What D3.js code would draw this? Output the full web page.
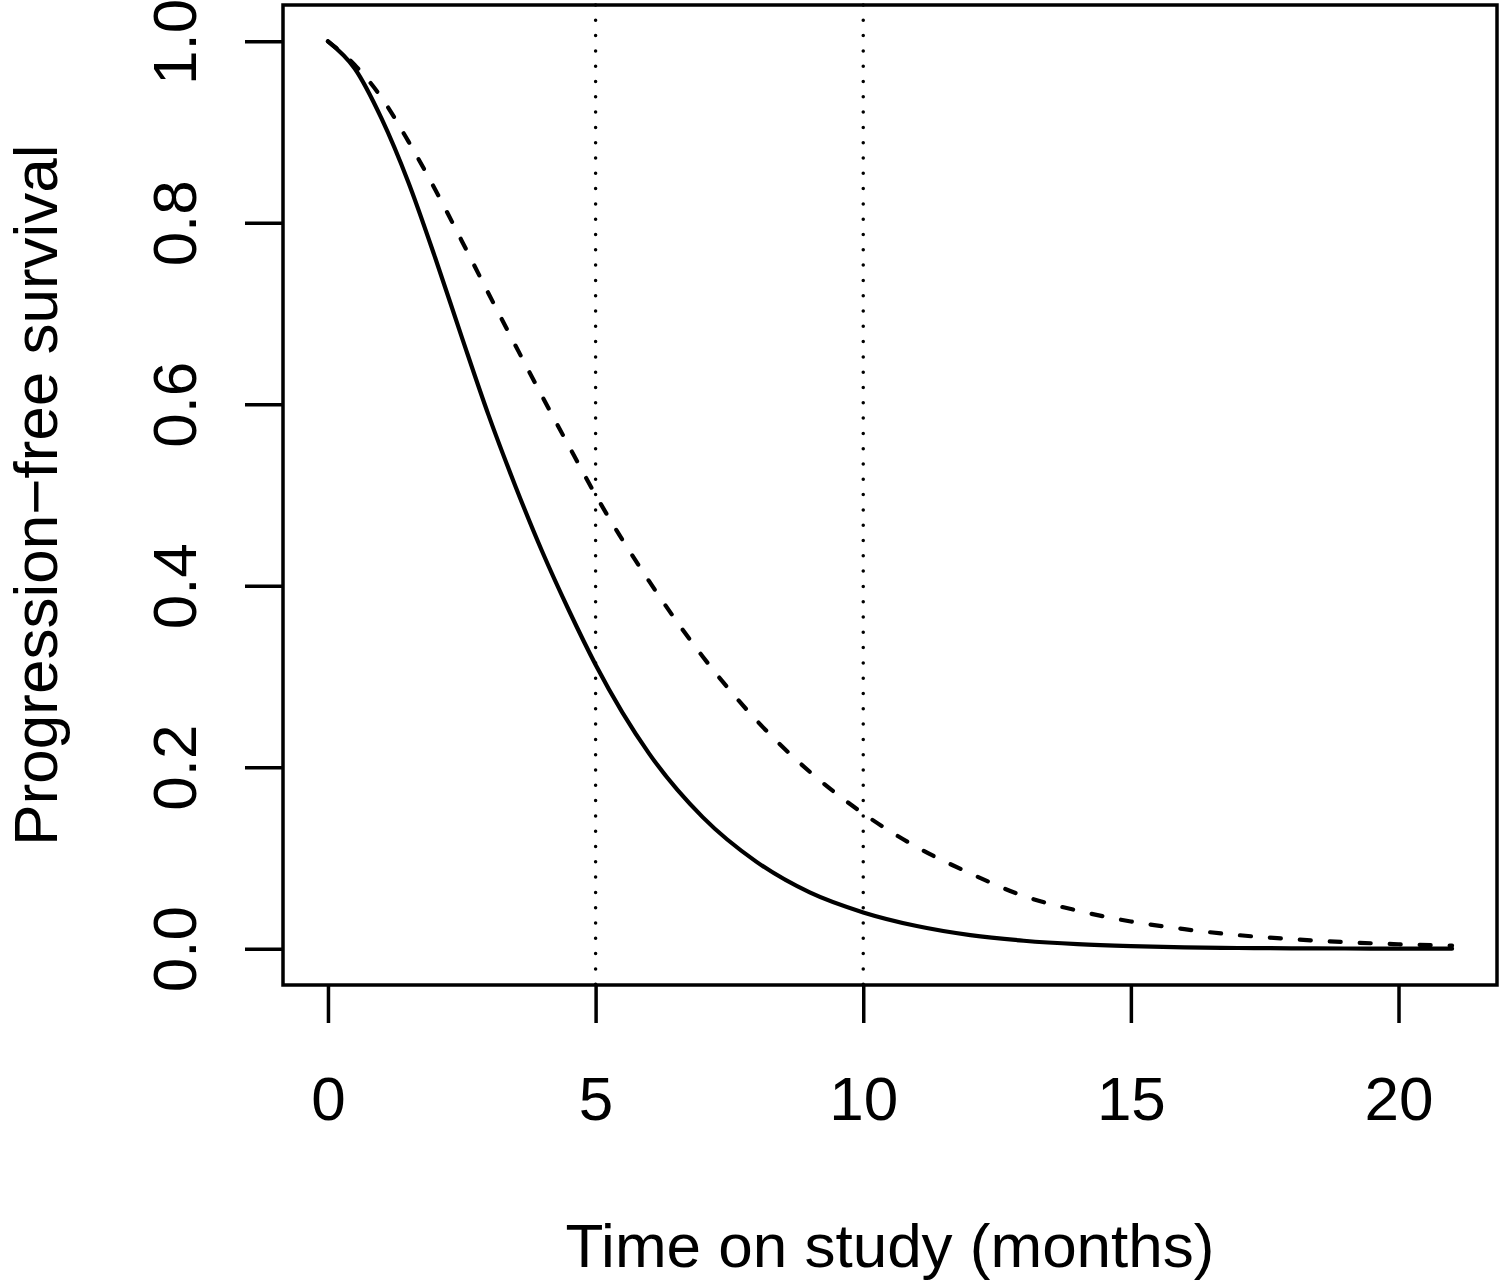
<!DOCTYPE html>
<html>
<head>
<meta charset="utf-8">
<style>
  body { margin: 0px; background: white; }
  text { font-family: "Liberation Sans", Arial, sans-serif; }
</style>
</head>
<body>
<svg id="mysvg"></svg>

<script src="https://d3js.org/d3.v7.min.js"></script>
<script>

  // months on study
  var months = [0, 0.5, 1, 1.5, 2, 2.5, 3, 3.5, 4, 4.5, 5, 6, 7, 8, 9, 10,
                11, 12, 13, 14, 15, 16, 17, 18, 19, 20, 21];

  // solid curve
  var pfsSolid = [1, 0.97, 0.915, 0.845, 0.762, 0.674, 0.588, 0.51, 0.438, 0.373, 0.313,
                  0.215, 0.145, 0.096, 0.062, 0.04,
                  0.025, 0.015, 0.0088, 0.005, 0.0028, 0.0015, 0.0008, 0.0004, 0.0002, 0.0001, 0.00005];

  // dashed curve
  var pfsDashed = [1, 0.974, 0.938, 0.89, 0.837, 0.78, 0.722, 0.665, 0.609, 0.554, 0.5,
                   0.405, 0.322, 0.252, 0.195, 0.149,
                   0.112, 0.083, 0.058, 0.042, 0.03, 0.0215, 0.015, 0.0105, 0.0072, 0.0049, 0.0033];

  var xTicks = [0, 5, 10, 15, 20];
  var yTicks = [0, 0.2, 0.4, 0.6, 0.8, 1.0];
  var refMonths = [5, 10];

  var width = 1500, height = 1280;
  var fontSize = 62;

  var svg = d3.select("#mysvg")
    .attr("width", width)
    .attr("height", height);

  // R style: 4% padding on both sides of the data range
  var xScale = d3.scaleLinear()
    .domain([-0.84, 21.84])
    .range([283, 1497]);

  var yScale = d3.scaleLinear()
    .domain([-0.04, 1.04])
    .range([985, 5]);

  // dotted reference lines
  svg.selectAll(".ref")
    .data(refMonths)
    .enter().append("line")
    .attr("class", "ref")
    .attr("x1", function(d){ return xScale(d); })
    .attr("x2", function(d){ return xScale(d); })
    .attr("y1", yScale.range()[1])
    .attr("y2", yScale.range()[0])
    .attr("stroke", "black")
    .attr("stroke-width", 3.5)
    .attr("stroke-linecap", "round")
    .attr("stroke-dasharray", "0,15.3");

  var line = d3.line()
    .curve(d3.curveMonotoneX)
    .x(function(d){ return xScale(d[0]); })
    .y(function(d){ return yScale(d[1]); });

  svg.append("path")
    .datum(d3.zip(months, pfsSolid))
    .attr("d", line)
    .attr("fill", "none")
    .attr("stroke", "black")
    .attr("stroke-width", 4.2)
    .attr("stroke-linecap", "round");

  svg.append("path")
    .datum(d3.zip(months, pfsDashed))
    .attr("d", line)
    .attr("fill", "none")
    .attr("stroke", "black")
    .attr("stroke-width", 4.2)
    .attr("stroke-linecap", "round")
    .attr("stroke-dasharray", "11,19");

  // box
  svg.append("rect")
    .attr("x", xScale.range()[0])
    .attr("y", yScale.range()[1])
    .attr("width", xScale.range()[1] - xScale.range()[0])
    .attr("height", yScale.range()[0] - yScale.range()[1])
    .attr("fill", "none")
    .attr("stroke", "black")
    .attr("stroke-width", 3.5);

  // x axis
  var xAxis = d3.axisBottom(xScale)
    .tickValues(xTicks)
    .tickSize(38)
    .tickFormat(d3.format("d"));

  var gx = svg.append("g")
    .attr("transform", "translate(0," + yScale.range()[0] + ")")
    .call(xAxis);
  gx.select(".domain").remove();
  gx.selectAll("line").attr("stroke-width", 3.5);
  gx.selectAll("text")
    .attr("y", 135)
    .attr("dy", null)
    .attr("font-size", fontSize)
    .attr("font-family", "Liberation Sans, Arial, sans-serif")
    .attr("fill", "black");

  // y axis
  var yAxis = d3.axisLeft(yScale)
    .tickValues(yTicks)
    .tickSize(38)
    .tickFormat(d3.format(".1f"));

  var gy = svg.append("g")
    .attr("transform", "translate(" + xScale.range()[0] + ",0)")
    .call(yAxis);
  gy.select(".domain").remove();
  gy.selectAll("line").attr("stroke-width", 3.5);
  gy.selectAll("text")
    .attr("x", null)
    .attr("dy", null)
    .attr("text-anchor", "middle")
    .attr("transform", "translate(-87,0) rotate(-90)")
    .attr("font-size", fontSize)
    .attr("font-family", "Liberation Sans, Arial, sans-serif")
    .attr("fill", "black");

  // axis titles
  svg.append("text")
    .attr("x", (xScale.range()[0] + xScale.range()[1]) / 2)
    .attr("y", 1267)
    .attr("text-anchor", "middle")
    .attr("font-size", fontSize)
    .text("Time on study (months)");

  svg.append("text")
    .attr("transform", "translate(57," + (yScale.range()[0] + yScale.range()[1]) / 2 + ") rotate(-90)")
    .attr("text-anchor", "middle")
    .attr("font-size", fontSize)
    .text("Progression\u2212free survival");

</script>
</body>
</html>
